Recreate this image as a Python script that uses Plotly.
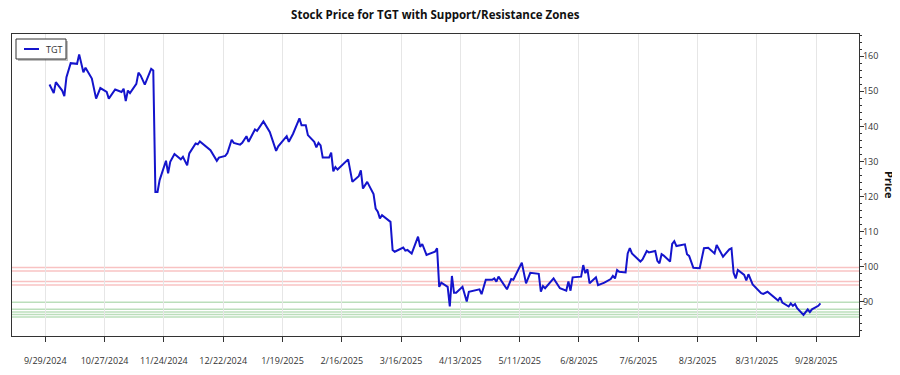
import plotly.graph_objects as go

dates = [
    "2024-10-01", "2024-10-03", "2024-10-04", "2024-10-07", "2024-10-08", "2024-10-09", "2024-10-11",
    "2024-10-14", "2024-10-15", "2024-10-17", "2024-10-18", "2024-10-21", "2024-10-23", "2024-10-25",
    "2024-10-28", "2024-10-29", "2024-11-01", "2024-11-04", "2024-11-05", "2024-11-06", "2024-11-07",
    "2024-11-08", "2024-11-11", "2024-11-12", "2024-11-13", "2024-11-15", "2024-11-18", "2024-11-19",
    "2024-11-20", "2024-11-21", "2024-11-22", "2024-11-25", "2024-11-26", "2024-11-27", "2024-11-29",
    "2024-12-02", "2024-12-03", "2024-12-05", "2024-12-06", "2024-12-09", "2024-12-10", "2024-12-11",
    "2024-12-16", "2024-12-19", "2024-12-20", "2024-12-23", "2024-12-24", "2024-12-26", "2024-12-27",
    "2024-12-30", "2024-12-31", "2025-01-02", "2025-01-03", "2025-01-06", "2025-01-07", "2025-01-10",
    "2025-01-13", "2025-01-16", "2025-01-17", "2025-01-21", "2025-01-22", "2025-01-24", "2025-01-27",
    "2025-01-28", "2025-01-30", "2025-01-31", "2025-02-03", "2025-02-04", "2025-02-05", "2025-02-06",
    "2025-02-07", "2025-02-10", "2025-02-11", "2025-02-12", "2025-02-13", "2025-02-14", "2025-02-19",
    "2025-02-21", "2025-02-24", "2025-02-25", "2025-02-26", "2025-02-28", "2025-03-03", "2025-03-04",
    "2025-03-05", "2025-03-06", "2025-03-07", "2025-03-11", "2025-03-12", "2025-03-13", "2025-03-17",
    "2025-03-18", "2025-03-19", "2025-03-21", "2025-03-24", "2025-03-25", "2025-03-26", "2025-03-28",
    "2025-04-01", "2025-04-02", "2025-04-03", "2025-04-04", "2025-04-07", "2025-04-08", "2025-04-09",
    "2025-04-10", "2025-04-11", "2025-04-14", "2025-04-16", "2025-04-17", "2025-04-22", "2025-04-23",
    "2025-04-25", "2025-04-28", "2025-04-29", "2025-04-30", "2025-05-01", "2025-05-05", "2025-05-07",
    "2025-05-08", "2025-05-12", "2025-05-14", "2025-05-16", "2025-05-20", "2025-05-21", "2025-05-22",
    "2025-05-23", "2025-05-27", "2025-05-30", "2025-06-02", "2025-06-03", "2025-06-04", "2025-06-05",
    "2025-06-09", "2025-06-10", "2025-06-11", "2025-06-12", "2025-06-13", "2025-06-16", "2025-06-17",
    "2025-06-20", "2025-06-23", "2025-06-24", "2025-06-25", "2025-06-26", "2025-06-27", "2025-06-30",
    "2025-07-01", "2025-07-02", "2025-07-03", "2025-07-07", "2025-07-08", "2025-07-10", "2025-07-11",
    "2025-07-14", "2025-07-15", "2025-07-16", "2025-07-17", "2025-07-18", "2025-07-21", "2025-07-22",
    "2025-07-23", "2025-07-24", "2025-07-28", "2025-07-29", "2025-07-30", "2025-08-01", "2025-08-04",
    "2025-08-06", "2025-08-08", "2025-08-11", "2025-08-12", "2025-08-15", "2025-08-18", "2025-08-19",
    "2025-08-20", "2025-08-21", "2025-08-22", "2025-08-25", "2025-08-26", "2025-08-27", "2025-08-29",
    "2025-09-02", "2025-09-03", "2025-09-05", "2025-09-09", "2025-09-10", "2025-09-11", "2025-09-12",
    "2025-09-15", "2025-09-16", "2025-09-17", "2025-09-18", "2025-09-19", "2025-09-22", "2025-09-24",
    "2025-09-25", "2025-09-26", "2025-09-29", "2025-09-30",
]

prices = [
    151.9, 149.5, 152.6, 150.2, 148.6, 154.0, 158.0,
    157.8, 160.5, 155.4, 156.7, 153.6, 147.9, 150.9,
    149.8, 147.9, 150.5, 149.8, 150.7, 147.2, 150.2,
    149.5, 152.1, 155.3, 154.5, 151.9, 156.4, 155.9,
    121.3, 121.3, 124.7, 130.2, 126.6, 129.9, 132.1,
    130.6, 131.3, 128.9, 132.3, 135.1, 134.9, 135.7,
    133.2, 130.2, 131.1, 131.6, 132.4, 136.2, 135.3,
    134.8, 135.3, 137.2, 135.6, 139.1, 138.7, 141.4,
    138.4, 133.0, 134.3, 137.2, 135.6, 137.9, 142.3,
    140.3, 140.3, 137.5, 135.6, 134.0, 135.3, 134.6,
    131.1, 131.1, 132.5, 127.2, 128.4, 127.7, 130.6,
    124.2, 125.8, 127.5, 122.3, 124.2, 120.7, 116.6,
    115.7, 113.8, 114.7, 112.8, 104.8, 104.3, 105.5,
    104.6, 104.8, 103.8, 108.6, 105.7, 106.5, 103.4,
    104.3, 105.3, 94.3, 95.5, 94.3, 88.7, 97.4,
    92.6, 92.6, 94.3, 90.1, 92.9, 93.6, 92.2,
    96.3, 96.3, 96.7, 95.8, 97.2, 93.6, 96.5,
    96.3, 101.2, 95.3, 98.3, 98.0, 92.9, 94.5,
    93.9, 96.7, 93.9, 93.2, 95.8, 93.2, 97.0,
    97.2, 100.5, 98.2, 99.3, 95.3, 97.0, 94.8,
    95.5, 96.5, 97.4, 96.7, 99.1, 98.6, 98.4,
    103.8, 105.3, 103.8, 101.5, 102.1, 104.5, 104.1,
    104.5, 101.7, 101.0, 103.6, 103.2, 101.5, 106.5,
    107.3, 105.9, 106.4, 103.6, 103.1, 99.7, 99.6,
    105.3, 105.4, 103.8, 106.2, 102.9, 105.0, 105.3,
    98.3, 96.7, 99.1, 97.7, 96.1, 97.9, 95.0,
    92.5, 92.3, 92.9, 91.1, 90.4, 91.3, 89.8,
    88.7, 89.6, 88.9, 89.4, 88.2, 86.3, 87.9,
    87.1, 87.9, 88.9, 89.6,
]

resistance_levels = [99.8, 98.8, 95.8, 94.8]
support_levels = [89.9, 87.9, 87.1, 86.4, 85.7]

tick_dates = ["2024-09-29", "2024-10-27", "2024-11-24", "2024-12-22", "2025-01-19", "2025-02-16",
              "2025-03-16", "2025-04-13", "2025-05-11", "2025-06-08", "2025-07-06", "2025-08-03",
              "2025-08-31", "2025-09-28"]
tick_labels = ["9/29/2024", "10/27/2024", "11/24/2024", "12/22/2024", "1/19/2025", "2/16/2025",
               "3/16/2025", "4/13/2025", "5/11/2025", "6/8/2025", "7/6/2025", "8/3/2025",
               "8/31/2025", "9/28/2025"]

FONT = "Open Sans, Noto Sans, sans-serif"
LINE_COLOR = "#1414cc"

fig = go.Figure()

for lv in resistance_levels:
    fig.add_hline(y=lv, line=dict(color="rgba(235,80,80,0.35)", width=1.5), layer="below")
for lv in support_levels:
    fig.add_hline(y=lv, line=dict(color="rgba(60,160,60,0.35)", width=1.5), layer="below")

fig.add_trace(go.Scatter(x=dates, y=prices, mode="lines", name="TGT", showlegend=False,
                         line=dict(color=LINE_COLOR, width=2)))

# custom compact legend box (pixel-sized, anchored to top-left of plot area)
def px_shape(kind, x0, x1, y0, y1, **kw):
    return dict(type=kind, xref="paper", yref="paper", xsizemode="pixel", ysizemode="pixel",
                xanchor=0, yanchor=1, x0=x0, x1=x1, y0=y0, y1=y1, layer="above", **kw)

shapes = [
    px_shape("rect", 6, 56, -7, -27, fillcolor="rgba(0,0,0,0.25)", line=dict(width=0)),
    px_shape("rect", 4, 54, -5, -25, fillcolor="white", line=dict(color="#333", width=1)),
    px_shape("line", 12, 27, -15, -15, line=dict(color=LINE_COLOR, width=2)),
]
fig.update_layout(shapes=list(fig.layout.shapes) + shapes)

fig.update_layout(
    width=892, height=367,
    margin=dict(l=4, r=41, t=26, b=39, autoexpand=False),
    paper_bgcolor="white", plot_bgcolor="white",
    font=dict(family=FONT, size=9, color="#333"),
    title=dict(text="<b>Stock Price for TGT with Support/Resistance Zones</b>",
               x=0.479, xanchor="center", y=0.980, yanchor="middle",
               font=dict(family=FONT, size=11.5, color="#111")),
    showlegend=False,
    xaxis=dict(
        type="date",
        automargin=False,
        range=["2024-09-13 07:00", "2025-10-18 05:00"],
        tickvals=tick_dates, ticktext=tick_labels,
        showgrid=True, gridcolor="#e6e6e6", gridwidth=1,
        showline=True, linecolor="#333", linewidth=1.2, mirror=True,
        ticks="outside", ticklen=5, tickcolor="#333",
        ticklabelstandoff=11,
        tickfont=dict(size=9, color="#333"),
        zeroline=False,
    ),
    yaxis=dict(
        side="right",
        automargin=False,
        range=[80.3, 166.3],
        tickvals=[90, 100, 110, 120, 130, 140, 150, 160],
        showgrid=False,
        showline=True, linecolor="#333", linewidth=1.2, mirror=True,
        ticks="outside", ticklen=4, tickcolor="#333",
        ticklabelstandoff=-3,
        minor=dict(ticks="outside", ticklen=2, dtick=2, tickcolor="#333", showgrid=False),
        tickfont=dict(size=9, color="#333"),
        zeroline=False,
    ),
    annotations=[
        dict(text="<b>Price</b>", textangle=90, xref="paper", yref="paper",
             x=1.0, xanchor="center", yanchor="middle", xshift=31, y=0.5, showarrow=False,
             font=dict(family=FONT, size=11, color="#111")),
        dict(text="TGT", xref="paper", yref="paper", x=0, y=1, xanchor="center", yanchor="middle",
             xshift=42, yshift=-15, showarrow=False, font=dict(family=FONT, size=9, color="#333")),
    ],
)

fig.write_html("out.html")
